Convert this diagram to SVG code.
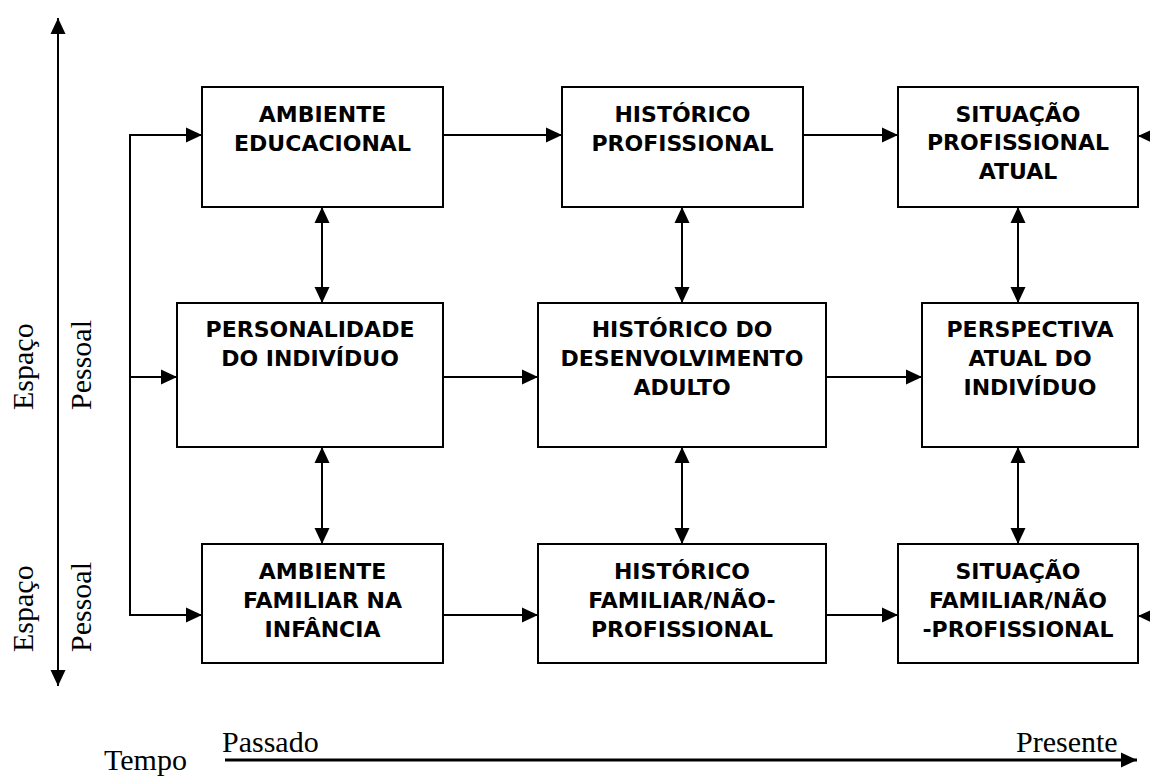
<svg xmlns="http://www.w3.org/2000/svg" width="1150" height="778" viewBox="0 0 1150 778">
<style>
.box{fill:#fff;stroke:#000;stroke-width:2}
.lbl{font-family:"DejaVu Sans",Verdana,sans-serif;font-weight:bold;font-size:22px;text-anchor:middle;fill:#000}
.ser{font-family:"Liberation Serif","Times New Roman",serif;font-size:30px;fill:#000}
.ln{stroke:#000;stroke-width:2;fill:none}
</style>
<defs>
<marker id="ah" markerUnits="userSpaceOnUse" markerWidth="16" markerHeight="16" refX="16" refY="7.5" orient="auto-start-reverse" viewBox="0 0 16 15">
<path d="M0,0 L16,7.5 L0,15 z" fill="#000"/>
</marker>
</defs>
<rect width="1150" height="778" fill="#fff"/>

<g id="axes">
<line class="ln" x1="58" y1="686" x2="58" y2="18" marker-start="url(#ah)" marker-end="url(#ah)"/>
<line x1="225" y1="760" x2="1137" y2="760" stroke="#000" stroke-width="3" marker-end="url(#ah)"/>
<text class="ser" transform="translate(33,410) rotate(-90)">Espaço</text>
<text class="ser" transform="translate(91,410) rotate(-90)">Pessoal</text>
<text class="ser" transform="translate(33,652) rotate(-90)">Espaço</text>
<text class="ser" transform="translate(91,652) rotate(-90)">Pessoal</text>
<text class="ser" x="104" y="770">Tempo</text>
<text class="ser" x="222" y="752">Passado</text>
<text class="ser" x="1016" y="752">Presente</text>
</g>

<g id="connectors">
<polyline class="ln" points="202,135 130,135 130,615 202,615" marker-start="url(#ah)" marker-end="url(#ah)"/>
<line class="ln" x1="130" y1="377" x2="177" y2="377" marker-end="url(#ah)"/>
<line class="ln" x1="443" y1="135" x2="562" y2="135" marker-end="url(#ah)"/>
<line class="ln" x1="803" y1="135" x2="898" y2="135" marker-end="url(#ah)"/>
<line class="ln" x1="1160" y1="136" x2="1138" y2="136" marker-end="url(#ah)"/>
<line class="ln" x1="443" y1="377" x2="538" y2="377" marker-end="url(#ah)"/>
<line class="ln" x1="826" y1="377" x2="922" y2="377" marker-end="url(#ah)"/>
<line class="ln" x1="443" y1="615" x2="538" y2="615" marker-end="url(#ah)"/>
<line class="ln" x1="826" y1="615" x2="898" y2="615" marker-end="url(#ah)"/>
<line class="ln" x1="1160" y1="616" x2="1138" y2="616" marker-end="url(#ah)"/>
<line class="ln" x1="322" y1="207" x2="322" y2="303" marker-start="url(#ah)" marker-end="url(#ah)"/>
<line class="ln" x1="322" y1="447" x2="322" y2="544" marker-start="url(#ah)" marker-end="url(#ah)"/>
<line class="ln" x1="682" y1="207" x2="682" y2="303" marker-start="url(#ah)" marker-end="url(#ah)"/>
<line class="ln" x1="682" y1="447" x2="682" y2="544" marker-start="url(#ah)" marker-end="url(#ah)"/>
<line class="ln" x1="1018" y1="207" x2="1018" y2="303" marker-start="url(#ah)" marker-end="url(#ah)"/>
<line class="ln" x1="1018" y1="447" x2="1018" y2="544" marker-start="url(#ah)" marker-end="url(#ah)"/>
</g>

<g id="ambiente-educacional">
<rect class="box" x="202" y="87" width="241" height="120"/>
<text class="lbl" x="322.5" y="122">AMBIENTE</text>
<text class="lbl" x="322.5" y="151">EDUCACIONAL</text>
</g>
<g id="historico-profissional">
<rect class="box" x="562" y="87" width="241" height="120"/>
<text class="lbl" x="682.5" y="122">HISTÓRICO</text>
<text class="lbl" x="682.5" y="151">PROFISSIONAL</text>
</g>
<g id="situacao-profissional">
<rect class="box" x="898" y="87" width="240" height="120"/>
<text class="lbl" x="1018" y="122">SITUAÇÃO</text>
<text class="lbl" x="1018" y="150">PROFISSIONAL</text>
<text class="lbl" x="1018" y="179">ATUAL</text>
</g>
<g id="personalidade">
<rect class="box" x="177" y="303" width="266" height="144"/>
<text class="lbl" x="310" y="337">PERSONALIDADE</text>
<text class="lbl" x="310" y="366">DO INDIVÍDUO</text>
</g>
<g id="desenvolvimento-adulto">
<rect class="box" x="538" y="303" width="288" height="144"/>
<text class="lbl" x="682" y="337">HISTÓRICO DO</text>
<text class="lbl" x="682" y="366">DESENVOLVIMENTO</text>
<text class="lbl" x="682" y="395">ADULTO</text>
</g>
<g id="perspectiva-atual">
<rect class="box" x="922" y="303" width="216" height="144"/>
<text class="lbl" x="1030" y="337">PERSPECTIVA</text>
<text class="lbl" x="1030" y="366">ATUAL DO</text>
<text class="lbl" x="1030" y="395">INDIVÍDUO</text>
</g>
<g id="ambiente-familiar">
<rect class="box" x="202" y="544" width="241" height="119"/>
<text class="lbl" x="322.5" y="579">AMBIENTE</text>
<text class="lbl" x="322.5" y="608">FAMILIAR NA</text>
<text class="lbl" x="322.5" y="637">INFÂNCIA</text>
</g>
<g id="historico-familiar">
<rect class="box" x="538" y="544" width="288" height="119"/>
<text class="lbl" x="682" y="579">HISTÓRICO</text>
<text class="lbl" x="682" y="608">FAMILIAR/NÃO-</text>
<text class="lbl" x="682" y="637">PROFISSIONAL</text>
</g>
<g id="situacao-familiar">
<rect class="box" x="898" y="544" width="240" height="119"/>
<text class="lbl" x="1018" y="579">SITUAÇÃO</text>
<text class="lbl" x="1018" y="608">FAMILIAR/NÃO</text>
<text class="lbl" x="1018" y="637">-PROFISSIONAL</text>
</g>
</svg>
